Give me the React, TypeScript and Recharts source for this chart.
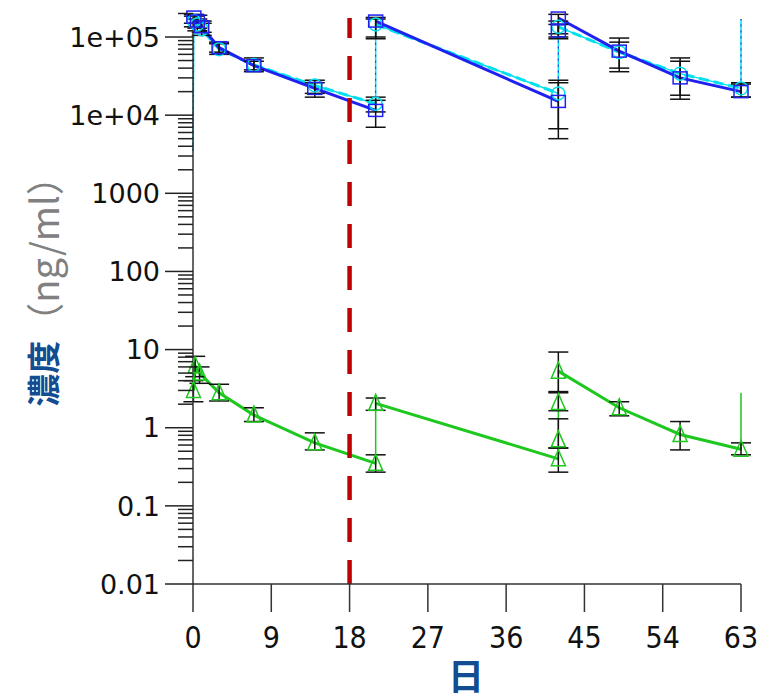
import React from 'react';
import { LineChart, Line, XAxis, YAxis, ErrorBar, ReferenceLine } from 'recharts';

// blue: solid line, open squares
const blueDays = [0.1, 0.5, 1, 3, 7, 14, 21, 21, 42, 42, 42, 49, 56, 63];
const blueConc = [180000, 160000, 135000, 73000, 43000, 22000, 11500, 160000, 15000, 120000, 175000, 66000, 30000, 20000];
const blueLow = [150000, 130000, 115000, 64000, 36000, 17000, 7000, 95000, 5000, 95000, 110000, 36000, 16000, 17000];
const blueHigh = [195000, 190000, 160000, 86000, 54000, 28000, 17000, 178000, 28000, 145000, 195000, 97000, 54000, 26000];

// cyan: dashed line, open circles
const cyanDays = [0.1, 0.5, 1, 3, 7, 14, 21, 21, 42, 42, 49, 56, 63];
const cyanConc = [160000, 145000, 125000, 70000, 44000, 24000, 14000, 145000, 19000, 135000, 64000, 34000, 22000];
const cyanLow = [135000, 120000, 105000, 60000, 38000, 19000, 11000, 100000, 6700, 100000, 40000, 18000, 17000];
const cyanHigh = [185000, 170000, 150000, 82000, 49000, 26000, 15500, 170000, 26000, 160000, 86000, 49000, 25000];

// green: solid line, open triangles
const greenDays = [0.05, 0.25, 0.75, 3, 7, 14, 21, 21, 42, 42, 42, 42, 49, 56, 63];
const greenConc = [3.0, 6.2, 5.0, 2.8, 1.45, 0.64, 0.35, 2.05, 0.4, 0.7, 2.1, 5.3, 1.8, 0.82, 0.53];
const greenLow = [2.15, 4.5, 3.7, 2.2, 1.2, 0.52, 0.27, 1.67, 0.27, 0.55, 1.65, 2.9, 1.42, 0.52, 0.45];
const greenHigh = [4.0, 8.2, 6.0, 3.6, 1.8, 0.86, 0.45, 2.4, 0.55, 1.3, 2.8, 9.3, 2.15, 1.2, 0.64];

// thin dose jumps before the first / after the last sample
const blueLead = [0, 3500];
const blueTail = [63, 170000];
const cyanLead = [0, 3500];
const cyanTail = [63, 170000];
const greenTail = [63, 2.8];

const xTicks = [0, 9, 18, 27, 36, 45, 54, 63];
const yMajor = [0.01, 0.1, 1, 10, 100, 1000, 10000, 100000];
const yTickLabels = ['0.01', '0.1', '1', '10', '100', '1000', '1e+04', '1e+05'];
const doseLine = 18;

const BLUE = '#2020f0';
const CYAN = '#00e0ee';
const GREEN = '#1ec81e';
const TITLE = '#124d92';

const yMinor: number[] = [];
yMajor.forEach((m) => {
  for (let k = 2; k <= 9; k++) if (m * k <= 200000) yMinor.push(+(m * k).toPrecision(3));
});
const yTicks = [...yMajor, ...yMinor];

const build = (days: number[], conc: number[], low: number[], high: number[]) =>
  days.map((d, i) => ({ day: d, v: conc[i], err: [conc[i] - low[i], high[i] - conc[i]] }));

// break the thick line where two samples share a day (dose given)
const breakAtDoses = (pts: { day: number; v: number }[]) => {
  const out: { day: number; v: number | null }[] = [];
  pts.forEach((p, i) => {
    out.push({ day: p.day, v: p.v });
    const next = pts[i + 1];
    if (next && next.day === p.day) out.push({ day: p.day, v: null });
  });
  return out;
};

const bluePts = build(blueDays, blueConc, blueLow, blueHigh);
const cyanPts = build(cyanDays, cyanConc, cyanLow, cyanHigh);
const greenPts = build(greenDays, greenConc, greenLow, greenHigh);

const pt = (a: number[]) => ({ day: a[0], v: a[1] });
const blueThin = [pt(blueLead), ...bluePts, pt(blueTail)];
const cyanThin = [pt(cyanLead), ...cyanPts, pt(cyanTail)];
const greenThin = [...greenPts, pt(greenTail)];

const squareDot = (p: any) =>
  p.cy == null ? <g key={p.index} /> : (
    <rect key={p.index} x={p.cx - 7} y={p.cy - 6} width={14} height={12} fill="none" stroke={BLUE} strokeWidth={1.5} />
  );
const circleDot = (p: any) =>
  p.cy == null ? <g key={p.index} /> : (
    <circle key={p.index} cx={p.cx} cy={p.cy} r={6.5} fill="none" stroke={CYAN} strokeWidth={1.5} />
  );
const triDot = (p: any) =>
  p.cy == null ? <g key={p.index} /> : (
    <path key={p.index} d={`M${p.cx},${p.cy - 9}L${p.cx + 7},${p.cy + 7}L${p.cx - 7},${p.cy + 7}Z`} fill="none" stroke={GREEN} strokeWidth={1.5} />
  );

const YTick = (props: any) => {
  const { x, y, payload } = props;
  const idx = yMajor.indexOf(payload.value);
  const major = idx >= 0;
  return (
    <g>
      <line x1={x - (major ? 28 : 15)} x2={x} y1={y} y2={y} stroke="#222" strokeWidth={1.5} />
      {major && (
        <text x={x - 33} y={y} dy="0.36em" textAnchor="end" fontSize={27} fontFamily="DejaVu Sans" fill="#111">
          {yTickLabels[idx]}
        </text>
      )}
    </g>
  );
};

const XTick = (props: any) => {
  const { x, y, payload } = props;
  return (
    <g>
      <line x1={x} x2={x} y1={y} y2={y + 28} stroke="#333" strokeWidth={1.5} />
      <text x={x} y={y + 53} dy="0.36em" textAnchor="middle" fontSize={30} fontFamily="DejaVu Sans Condensed, DejaVu Sans" fill="#111">
        {payload.value}
      </text>
    </g>
  );
};

const YLabel = () => (
  <text
    x={42}
    y={282}
    transform="rotate(-90 42 282)"
    textAnchor="middle"
    dominantBaseline="central"
    fontFamily="Noto Sans CJK JP"
  >
    <tspan fontWeight="bold" fill={TITLE} fontSize={33}>濃度</tspan>
    <tspan fill="#808080" fontSize={38}>（ng/ml）</tspan>
  </text>
);

const XLabel = () => (
  <text x={466} y={690} textAnchor="middle" fontSize={36} fontWeight="bold" fill={TITLE} fontFamily="Noto Sans CJK JP">
    日
  </text>
);

const App: React.FC = () => (
  <div style={{ position: 'absolute', left: 0, top: 0, background: '#fff' }}>
    <LineChart width={770} height={700} margin={{ top: 13.5, right: 29, bottom: 0, left: 0 }}>
      <XAxis
        dataKey="day"
        type="number"
        domain={[0, 63]}
        ticks={xTicks}
        interval={0}
        height={116}
        tickSize={0}
        tickMargin={0}
        tickLine={false}
        tick={<XTick />}
        axisLine={{ stroke: '#333', strokeWidth: 1.5 }}
        label={<XLabel />}
      />
      <YAxis
        dataKey="v"
        scale="log"
        type="number"
        domain={[0.01, 200000]}
        ticks={yTicks}
        interval={0}
        width={193}
        tickSize={0}
        tickMargin={0}
        tickLine={false}
        tick={<YTick />}
        axisLine={{ stroke: '#333', strokeWidth: 1.5 }}
        label={<YLabel />}
      />

      <Line data={cyanThin} dataKey="v" stroke={CYAN} strokeWidth={1.5} dot={false} activeDot={false} isAnimationActive={false} />
      <Line data={blueThin} dataKey="v" stroke={BLUE} strokeWidth={1} strokeDasharray="2 4" dot={false} activeDot={false} isAnimationActive={false} />
      <Line data={greenThin} dataKey="v" stroke={GREEN} strokeWidth={1.5} dot={false} activeDot={false} isAnimationActive={false} />

      <Line data={breakAtDoses(cyanPts)} dataKey="v" stroke={CYAN} strokeWidth={3} strokeDasharray="10 5" dot={false} activeDot={false} isAnimationActive={false} />
      <Line data={breakAtDoses(bluePts)} dataKey="v" stroke={BLUE} strokeWidth={3} dot={false} activeDot={false} isAnimationActive={false} />
      <Line data={breakAtDoses(greenPts)} dataKey="v" stroke={GREEN} strokeWidth={3} dot={false} activeDot={false} isAnimationActive={false} />

      <Line data={cyanPts} dataKey="v" stroke="none" dot={circleDot} activeDot={false} isAnimationActive={false}>
        <ErrorBar dataKey="err" stroke="#111" strokeWidth={1.5} width={10} />
      </Line>
      <Line data={bluePts} dataKey="v" stroke="none" dot={squareDot} activeDot={false} isAnimationActive={false}>
        <ErrorBar dataKey="err" stroke="#111" strokeWidth={1.5} width={10} />
      </Line>
      <Line data={greenPts} dataKey="v" stroke="none" dot={triDot} activeDot={false} isAnimationActive={false}>
        <ErrorBar dataKey="err" stroke="#111" strokeWidth={1.5} width={10} />
      </Line>

      <ReferenceLine
        segment={[{ x: doseLine, y: 0.01 }, { x: doseLine, y: 175000 }]}
        stroke="#c00000"
        strokeWidth={4.5}
        strokeDasharray="24 18"
      />
    </LineChart>
  </div>
);

export default App;
